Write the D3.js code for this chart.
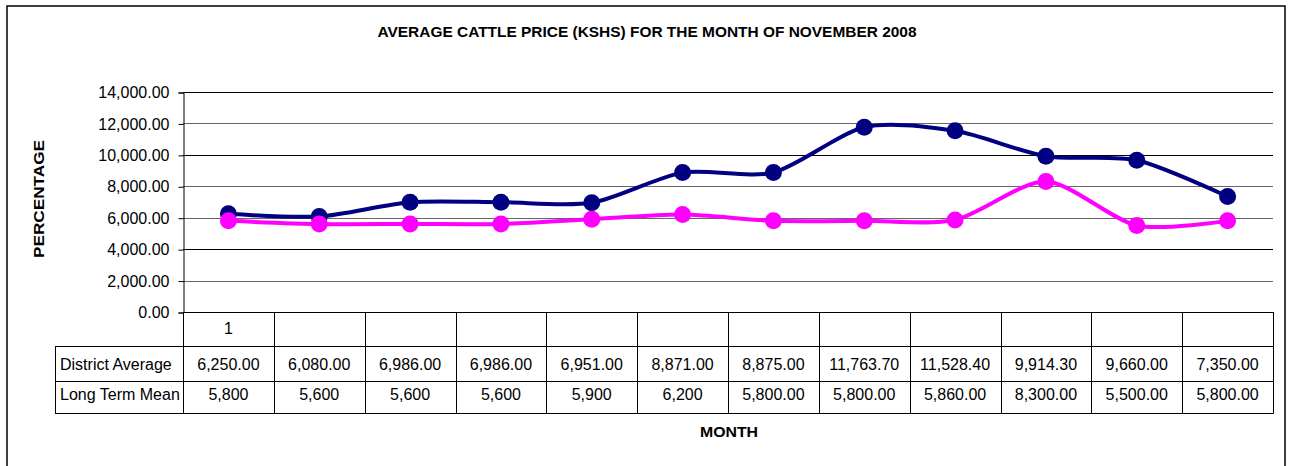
<!DOCTYPE html>
<html><head><meta charset="utf-8">
<script src="https://cdn.jsdelivr.net/npm/d3@7"></script>
<style>
html,body{margin:0;padding:0;background:#fff;}
svg{display:block;font-family:"Liberation Sans",Arial,sans-serif;}
</style></head>
<body><svg id="c" width="1291" height="466"></svg>
<script>
const categories = ["1","","","","","","","","","","",""];
const seriesNames = ["District Average","Long Term Mean"];
const districtAverage = [6250,6080,6986,6986,6951,8871,8875,11763.7,11528.4,9914.3,9660,7350];
const longTermMean = [5800,5600,5600,5600,5900,6200,5800,5800,5860,8300,5500,5800];
const districtLabels = ["6,250.00","6,080.00","6,986.00","6,986.00","6,951.00","8,871.00","8,875.00","11,763.70","11,528.40","9,914.30","9,660.00","7,350.00"];
const meanLabels = ["5,800","5,600","5,600","5,600","5,900","6,200","5,800.00","5,800.00","5,860.00","8,300.00","5,500.00","5,800.00"];
const yTicks = [0,2000,4000,6000,8000,10000,12000,14000];
const title = "AVERAGE CATTLE PRICE (KSHS) FOR THE MONTH OF NOVEMBER 2008";
const yTitle = "PERCENTAGE";
const xTitle = "MONTH";

const svg = d3.select("#c");
const L = 183, R = 1273, T = 92, B = 312;
const tableLeft = 55, rowY = [312, 346, 381, 413];

// outer border
svg.append("rect").attr("x",7).attr("y",6).attr("width",1278).attr("height",480)
  .attr("fill","none").attr("stroke","#000").attr("stroke-width",1.5);

const x = d3.scaleBand().domain(d3.range(categories.length)).range([L,R]).padding(0);
const y = d3.scaleLinear().domain([0,14000]).range([B,T]);
const fmt = d3.format(",.2f");

// gridlines
svg.append("g").selectAll("line").data(yTicks).join("line")
  .attr("x1",L).attr("x2",R).attr("y1",d=>Math.round(y(d))+0.5).attr("y2",d=>Math.round(y(d))+0.5)
  .attr("stroke",(d,i)=> (d===14000||d===10000||d===4000||d===0)?"#000":"#666").attr("stroke-width",1);

// y axis
const yAxis = d3.axisLeft(y).tickValues(yTicks).tickFormat(fmt).tickSize(5).tickPadding(9);
const ga = svg.append("g").attr("transform",`translate(${L+0.5},0.5)`).call(yAxis);
ga.select(".domain").attr("stroke","#000");
ga.selectAll(".tick line").attr("stroke","#000");
ga.selectAll(".tick text").attr("font-size",16).attr("fill","#000").attr("font-family","Liberation Sans, Arial, sans-serif");

// table
const tg = svg.append("g");
[[L,rowY[0]],[tableLeft,rowY[1]],[tableLeft,rowY[2]],[tableLeft,rowY[3]]].forEach(([x0,yy])=>{
  tg.append("line").attr("x1",x0).attr("x2",R+0.5).attr("y1",yy+0.5).attr("y2",yy+0.5).attr("stroke","#000");
});
const colEdges = categories.map((c,i)=>x(i)).concat([R]);
tg.selectAll("line.v").data(colEdges).join("line").attr("class","v")
  .attr("x1",d=>Math.round(d)+0.5).attr("x2",d=>Math.round(d)+0.5)
  .attr("y1",rowY[0]).attr("y2",rowY[3]+0.5).attr("stroke","#000");
tg.append("line").attr("x1",tableLeft+0.5).attr("x2",tableLeft+0.5).attr("y1",rowY[1]).attr("y2",rowY[3]+0.5).attr("stroke","#000");

tg.selectAll("text.cat").data(categories).join("text").attr("class","cat")
  .attr("x",(d,i)=>x(i)+x.bandwidth()/2).attr("y",334).attr("text-anchor","middle")
  .attr("font-size",16).text(d=>d);
[0,1].forEach(k=>{
  tg.append("text").attr("x",60).attr("y",[370,400][k]).attr("font-size",16).text(seriesNames[k]);
});
tg.selectAll("text.da").data(districtLabels).join("text").attr("class","da")
  .attr("x",(d,i)=>x(i)+x.bandwidth()/2).attr("y",370).attr("text-anchor","middle").attr("font-size",16).text(d=>d);
tg.selectAll("text.lm").data(meanLabels).join("text").attr("class","lm")
  .attr("x",(d,i)=>x(i)+x.bandwidth()/2).attr("y",400).attr("text-anchor","middle").attr("font-size",16).text(d=>d);

// lines
const line = d3.line().x((d,i)=>x(i)+x.bandwidth()/2).y(d=>y(d)).curve(d3.curveCardinal.tension(0.2));
const series = [{v:districtAverage,c:"#000080"},{v:longTermMean,c:"#FF00FF"}];
series.forEach(s=>{
  svg.append("path").datum(s.v).attr("d",line).attr("fill","none").attr("stroke",s.c).attr("stroke-width",4).attr("stroke-linejoin","round");
  svg.append("g").selectAll("circle").data(s.v).join("circle")
    .attr("cx",(d,i)=>x(i)+x.bandwidth()/2).attr("cy",d=>y(d)).attr("r",8.5).attr("fill",s.c);
});

// titles
svg.append("text").attr("x",647).attr("y",37).attr("text-anchor","middle").attr("font-weight","bold")
  .attr("font-size",15).attr("textLength",539).attr("lengthAdjust","spacingAndGlyphs").text(title);
svg.append("text").attr("transform","translate(44,199) rotate(-90)").attr("text-anchor","middle").attr("font-weight","bold")
  .attr("font-size",15).attr("textLength",118).attr("lengthAdjust","spacingAndGlyphs").text(yTitle);
svg.append("text").attr("x",729).attr("y",437).attr("text-anchor","middle").attr("font-weight","bold")
  .attr("font-size",15).attr("textLength",58).attr("lengthAdjust","spacingAndGlyphs").text(xTitle);
</script></body></html>
